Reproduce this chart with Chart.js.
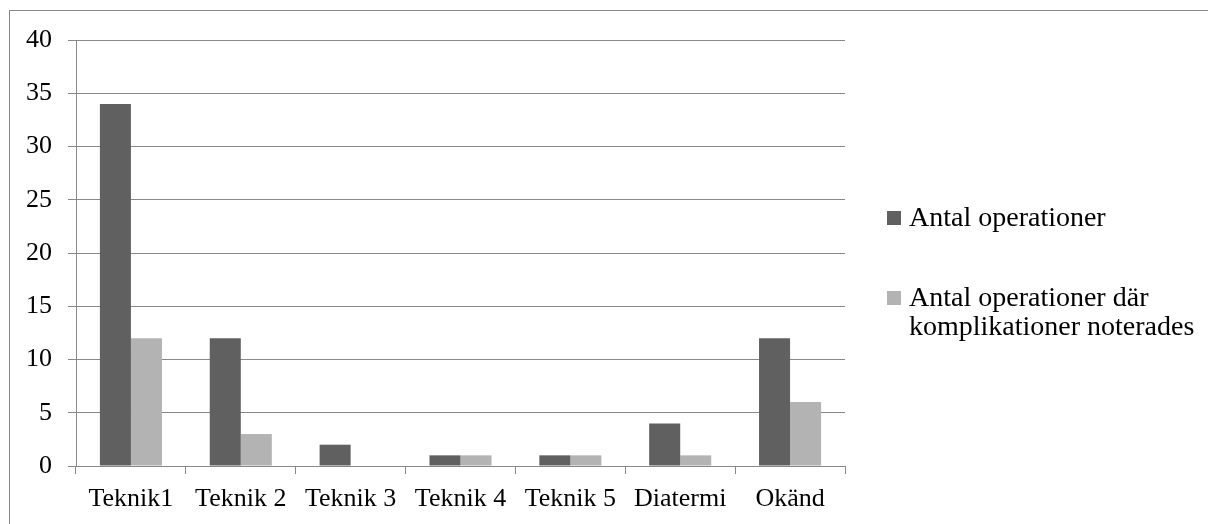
<!DOCTYPE html>
<html>
<head>
<meta charset="utf-8">
<script src="https://cdn.jsdelivr.net/npm/chart.js@4/dist/chart.umd.min.js"></script>
<style>
  html, body { margin: 0; padding: 0; background: #fff; }
  #wrap { position: relative; width: 1208px; height: 524px; overflow: hidden; }
  #frame { position: absolute; left: 9px; top: 10px; width: 1220px; height: 540px;
           border: 1px solid #898989; box-sizing: border-box; }
  canvas { position: absolute; left: 0; top: 0; }
  #legend { position: absolute; left: 887px; top: 0; font-family: "Liberation Serif", "Times New Roman", serif;
            font-size: 28px; color: #000; line-height: 29px; }
  .item { position: absolute; left: 0; white-space: nowrap; }
  .sw { position: absolute; left: 0; width: 14px; height: 14px; }
  .txt { position: absolute; left: 22px; }
</style>
</head>
<body>
<div id="wrap">
  <div id="frame"></div>
  <canvas id="c" width="1208" height="524"></canvas>
  <div id="legend"></div>
</div>
<script>
const categories = ["Teknik1", "Teknik 2", "Teknik 3", "Teknik 4", "Teknik 5", "Diatermi", "Okänd"];
const antalOperationer = [34, 12, 2, 1, 1, 4, 12];
const antalKomplikationer = [12, 3, 0, 1, 1, 1, 6];
const yTicks = [0, 5, 10, 15, 20, 25, 30, 35, 40];

const darkGrey = "#606060";
const lightGrey = "#b3b3b3";
const gridGrey = "#888888";
const font = { family: "'Liberation Serif', 'Times New Roman', serif", size: 26 };

Chart.defaults.font = font;
Chart.defaults.color = "#000";

const chart = new Chart(document.getElementById("c"), {
  type: "bar",
  data: {
    labels: categories,
    datasets: [
      { label: "Antal operationer", data: antalOperationer, backgroundColor: darkGrey },
      { label: "Antal operationer där komplikationer noterades", data: antalKomplikationer, backgroundColor: lightGrey }
    ]
  },
  options: {
    responsive: false,
    animation: false,
    layout: { padding: { left: 0, top: 40, right: 363, bottom: 0 } },
    plugins: { legend: { display: false }, tooltip: { enabled: false } },
    datasets: { bar: { categoryPercentage: 0.565, barPercentage: 1.0 } },
    scales: {
      x: {
        grid: { display: true, drawOnChartArea: false, offset: true, tickLength: 8, color: gridGrey, lineWidth: 1 },
        border: { display: true, color: gridGrey, width: 1 },
        ticks: { padding: 10, font: font, maxRotation: 0, autoSkip: false },
        afterFit: (s) => { s.height = 58; }
      },
      y: {
        min: 0, max: 40,
        afterBuildTicks: (s) => { s.ticks = yTicks.map(v => ({ value: v })); },
        grid: { color: gridGrey, lineWidth: 1, tickLength: 8 },
        border: { display: true, color: gridGrey, width: 1 },
        ticks: { padding: 16, font: font },
        afterFit: (s) => { s.width = 76; }
      }
    }
  }
});

// Legend on the right, one entry per dataset; the long name wraps onto two lines
const legend = document.getElementById("legend");
const legendTops = [202, 282];
const legendLines = [["Antal operationer"], ["Antal operationer där", "komplikationer noterades"]];
chart.data.datasets.forEach((ds, i) => {
  const d = document.createElement("div");
  d.className = "item";
  d.style.top = legendTops[i] + "px";
  const sw = document.createElement("div");
  sw.className = "sw";
  sw.style.background = ds.backgroundColor;
  sw.style.top = "9px";
  const t = document.createElement("div");
  t.className = "txt";
  t.innerHTML = legendLines[i].join("<br>");
  d.appendChild(sw);
  d.appendChild(t);
  legend.appendChild(d);
});
</script>
</body>
</html>
